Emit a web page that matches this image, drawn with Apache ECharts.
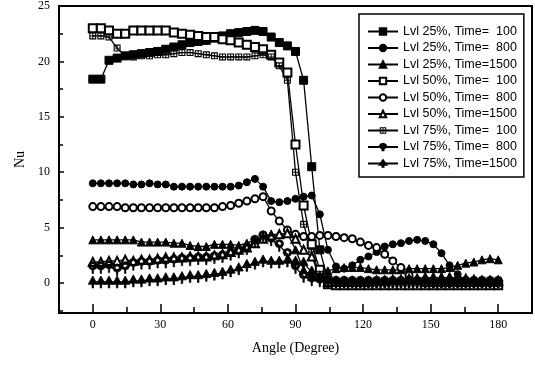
<!DOCTYPE html>
<html>
<head>
<meta charset="utf-8">
<script src="https://cdn.jsdelivr.net/npm/echarts@6/dist/echarts.min.js"></script>
<style>
  html, body { margin: 0; padding: 0; background: #fff; }
  #nuChart { width: 535px; height: 367px; }
</style>
</head>
<body>
<div id="nuChart"></div>
<script>
// angle samples (deg)
const angles = [0, 3.6, 7.2, 10.8, 14.4, 18, 21.6, 25.2, 28.8, 32.4,
  36, 39.6, 43.2, 46.8, 50.4, 54, 57.6, 61.2, 64.8, 68.4,
  72, 75.6, 79.2, 82.8, 86.4, 90, 93.6, 97.2, 100.8, 104.4,
  108, 111.6, 115.2, 118.8, 122.4, 126, 129.6, 133.2, 136.8, 140.4,
  144, 147.6, 151.2, 154.8, 158.4, 162, 165.6, 169.2, 172.8, 176.4, 180];

const lvl25T100 = [18.4, 18.4, 20.1, 20.3, 20.5, 20.6, 20.7, 20.8, 20.9, 21.1,
  21.3, 21.5, 21.7, 21.8, 21.9, 22.1, 22.3, 22.5, 22.6, 22.7,
  22.8, 22.7, 22.2, 21.7, 21.4, 20.9, 18.3, 10.5, 3.0, 0.3,
  0.0, -0.1, -0.1, -0.1, -0.1, -0.1, -0.1, -0.1, -0.1, -0.1,
  -0.1, -0.1, -0.1, -0.1, -0.1, -0.1, -0.1, -0.1, -0.1, -0.1, -0.1];
const lvl25T800 = [9.0, 9.0, 9.0, 9.0, 9.0, 8.9, 8.9, 9.0, 8.9, 8.9,
  8.7, 8.7, 8.7, 8.7, 8.7, 8.7, 8.7, 8.7, 8.8, 9.1,
  9.4, 8.7, 7.4, 7.3, 7.4, 7.6, 7.8, 7.9, 6.2, 3.0,
  1.5, 1.3, 1.6, 2.1, 2.4, 2.8, 3.3, 3.5, 3.6, 3.8,
  3.9, 3.8, 3.5, 2.7, 1.6, 0.8, 0.2, 0.0, 0.0, 0.0, 0.0];
const lvl25T1500 = [3.9, 3.9, 3.9, 3.9, 3.9, 3.9, 3.7, 3.7, 3.7, 3.7,
  3.6, 3.6, 3.4, 3.3, 3.3, 3.5, 3.5, 3.5, 3.4, 3.6,
  3.9, 4.2, 4.4, 4.4, 4.5, 3.0, 1.2, 0.6, 0.9, 1.1,
  1.3, 1.4, 1.4, 1.4, 1.3, 1.2, 1.2, 1.2, 1.2, 1.3,
  1.3, 1.3, 1.3, 1.3, 1.4, 1.6, 1.8, 1.9, 2.1, 2.2, 2.1];
const lvl50T100 = [23.0, 23.0, 22.8, 22.5, 22.5, 22.8, 22.8, 22.8, 22.8, 22.8,
  22.6, 22.5, 22.4, 22.3, 22.2, 22.2, 22.0, 21.9, 21.7, 21.5,
  21.3, 21.1, 20.6, 19.9, 19.0, 12.5, 7.0, 3.5, 1.2, -0.1,
  -0.2, -0.2, -0.2, -0.2, -0.2, -0.2, -0.2, -0.2, -0.2, -0.2,
  -0.2, -0.2, -0.2, -0.2, -0.2, -0.2, -0.2, -0.2, -0.2, -0.2, -0.2];
const lvl50T800 = [6.9, 6.9, 6.9, 6.9, 6.8, 6.8, 6.8, 6.8, 6.8, 6.8,
  6.8, 6.8, 6.8, 6.8, 6.8, 6.8, 6.9, 7.0, 7.2, 7.4,
  7.6, 7.8, 6.5, 5.6, 4.8, 4.4, 4.2, 4.2, 4.3, 4.3,
  4.2, 4.1, 4.0, 3.7, 3.4, 3.2, 2.6, 2.0, 1.4, 0.7,
  0.2, 0.0, 0.0, 0.0, 0.0, 0.0, 0.0, 0.0, 0.0, 0.0, 0.0];
const lvl50T1500 = [1.9, 1.9, 2.0, 2.0, 2.1, 2.0, 2.1, 2.1, 2.2, 2.3,
  2.3, 2.3, 2.4, 2.4, 2.4, 2.5, 2.6, 2.8, 3.0, 3.2,
  3.6, 4.0, 4.3, 4.4, 4.5, 4.0, 3.0, 2.4, 0.6, 0.1,
  0.1, 0.1, 0.1, 0.1, 0.1, 0.2, 0.2, 0.3, 0.3, 0.4,
  0.4, 0.5, 0.5, 0.5, 0.5, 0.5, 0.4, 0.3, 0.2, 0.2, 0.2];
const lvl75T100 = [22.3, 22.3, 22.2, 21.2, 20.5, 20.4, 20.5, 20.5, 20.6, 20.6,
  20.7, 20.8, 20.8, 20.7, 20.6, 20.5, 20.4, 20.4, 20.4, 20.4,
  20.5, 20.6, 20.4, 19.6, 18.3, 10.0, 5.3, 2.8, 0.8, 0.0,
  0.0, 0.0, 0.0, 0.0, 0.0, 0.0, 0.0, 0.0, 0.0, 0.0,
  0.0, 0.0, 0.0, 0.0, 0.0, 0.0, 0.0, 0.0, 0.0, 0.0, 0.0];
const lvl75T800 = [1.4, 1.4, 1.5, 1.2, 1.4, 1.7, 1.8, 1.8, 1.9, 1.9,
  2.0, 2.1, 2.1, 2.2, 2.2, 2.3, 2.4, 2.6, 2.8, 3.1,
  3.8, 4.2, 3.9, 3.4, 2.6, 1.4, 0.6, 0.3, 0.2, 0.1,
  0.1, 0.1, 0.1, 0.1, 0.1, 0.1, 0.1, 0.1, 0.1, 0.1,
  0.1, 0.1, 0.1, 0.1, 0.1, 0.1, 0.1, 0.1, 0.1, 0.1, 0.1];
const lvl75T1500 = [0.1, 0.1, 0.1, 0.1, 0.1, 0.2, 0.2, 0.3, 0.3, 0.4,
  0.4, 0.5, 0.6, 0.6, 0.7, 0.8, 0.9, 1.1, 1.3, 1.6,
  1.8, 2.0, 1.9, 1.9, 2.0, 1.9, 1.8, 1.0, 0.5, 0.2,
  0.1, 0.1, 0.1, 0.1, 0.1, 0.1, 0.1, 0.1, 0.1, 0.1,
  0.1, 0.1, 0.1, 0.1, 0.1, 0.1, 0.1, 0.1, 0.1, 0.1, 0.1];

const seriesNames = [
  'Lvl 25%, Time=  100', 'Lvl 25%, Time=  800', 'Lvl 25%, Time=1500',
  'Lvl 50%, Time=  100', 'Lvl 50%, Time=  800', 'Lvl 50%, Time=1500',
  'Lvl 75%, Time=  100', 'Lvl 75%, Time=  800', 'Lvl 75%, Time=1500'
];
const xTickValues = [0, 30, 60, 90, 120, 150, 180];
const xMinorTicks = [15, 45, 75, 105, 135, 165];
const yTickValues = [0, 5, 10, 15, 20, 25];
const yMinorTicks = [-2.5, 2.5, 7.5, 12.5, 17.5, 22.5];

// custom marker shapes
const crossSquare = 'path://M0,0H10V10H0Z M1.6,1.6V4.3H4.3V1.6Z M5.7,1.6V4.3H8.4V1.6Z M1.6,5.7V8.4H4.3V5.7Z M5.7,5.7V8.4H8.4V5.7Z';
const ringStem = 'path://M5,0L8.5,1.5L10,5L8.5,8.5L5,10L1.5,8.5L0,5L1.5,1.5Z ' +
  'M5,2.6L3.3,3.3L2.6,5L3.3,6.7L5,7.4L6.7,6.7L7.4,5L6.7,3.3Z M4.2,9.5H5.8V14H4.2Z';
const triStem = 'path://M5,0L10,9H0Z M4.2,8.5H5.8V13H4.2Z';

const serifFont = '"Liberation Serif", "Times New Roman", serif';
const sansFont = '"Liberation Sans", Arial, sans-serif';

function makeSeries(name, values, symbol, size, border) {
  return {
    name: name,
    type: 'line',
    data: angles.map(function (a, i) { return [a, values[i]]; }),
    symbol: symbol,
    symbolSize: size,
    lineStyle: { color: '#000', width: 1.3 },
    itemStyle: { color: '#000', borderColor: '#000', borderWidth: border },
    emphasis: { disabled: true }
  };
}

var nuChart = echarts.init(document.getElementById('nuChart'));
const option = {
  animation: false,
  backgroundColor: '#fff',
  grid: {
    left: 59, right: 3, top: 6, bottom: 54,
    show: true, borderColor: '#000', borderWidth: 2
  },
  legend: {
    orient: 'vertical',
    left: 359, top: 14,
    padding: [11, 7, 7, 8],
    itemWidth: 30, itemHeight: 8, itemGap: 3.5,
    borderColor: '#000', borderWidth: 1.5,
    backgroundColor: '#fff',
    textStyle: { fontFamily: sansFont, fontSize: 12.5, color: '#000' },
    data: seriesNames
  },
  xAxis: [
    {
      type: 'value', min: -15, max: 195, position: 'bottom',
      name: 'Angle (Degree)', nameLocation: 'middle', nameGap: 28,
      nameTextStyle: { fontFamily: serifFont, fontSize: 14, color: '#000' },
      axisLine: { show: true, onZero: false, lineStyle: { color: '#000', width: 2 } },
      axisTick: { show: true, inside: true, length: 9, customValues: xTickValues, lineStyle: { color: '#000', width: 1.5 } },
      axisLabel: { customValues: xTickValues, margin: 6, color: '#000', fontFamily: serifFont, fontSize: 12 },
      splitLine: { show: false }
    },
    {
      type: 'value', min: -15, max: 195, position: 'bottom',
      axisLine: { show: false, onZero: false },
      axisTick: { show: true, inside: true, length: 6, customValues: xMinorTicks, lineStyle: { color: '#000', width: 1.5 } },
      axisLabel: { show: false },
      splitLine: { show: false }
    }
  ],
  yAxis: [
    {
      type: 'value', min: -2.7, max: 25, position: 'left',
      name: 'Nu', nameLocation: 'middle', nameGap: 29,
      nameTextStyle: { fontFamily: serifFont, fontSize: 14, color: '#000' },
      axisLine: { show: true, onZero: false, lineStyle: { color: '#000', width: 2 } },
      axisTick: { show: true, inside: true, length: 5, customValues: yTickValues, lineStyle: { color: '#000', width: 1.5 } },
      axisLabel: { customValues: yTickValues, margin: 9, color: '#000', fontFamily: serifFont, fontSize: 12 },
      splitLine: { show: false }
    },
    {
      type: 'value', min: -2.7, max: 25, position: 'left',
      axisLine: { show: false, onZero: false },
      axisTick: { show: true, inside: true, length: 4, customValues: yMinorTicks, lineStyle: { color: '#000', width: 1.5 } },
      axisLabel: { show: false },
      splitLine: { show: false }
    }
  ],
  series: [
    makeSeries(seriesNames[0], lvl25T100, 'rect', 8, 1),
    makeSeries(seriesNames[1], lvl25T800, 'circle', 7, 1),
    makeSeries(seriesNames[2], lvl25T1500, 'triangle', 8, 1),
    makeSeries(seriesNames[3], lvl50T100, 'emptyRect', 8, 1.3),
    makeSeries(seriesNames[4], lvl50T800, 'emptyCircle', 7, 1.3),
    makeSeries(seriesNames[5], lvl50T1500, 'emptyTriangle', 8, 1.3),
    makeSeries(seriesNames[6], lvl75T100, crossSquare, 7, 0),
    makeSeries(seriesNames[7], lvl75T800, ringStem, [9, 12], 0.6),
    makeSeries(seriesNames[8], lvl75T1500, triStem, [9, 12], 0.8)
  ]
};
nuChart.setOption(option);
</script>
</body>
</html>
